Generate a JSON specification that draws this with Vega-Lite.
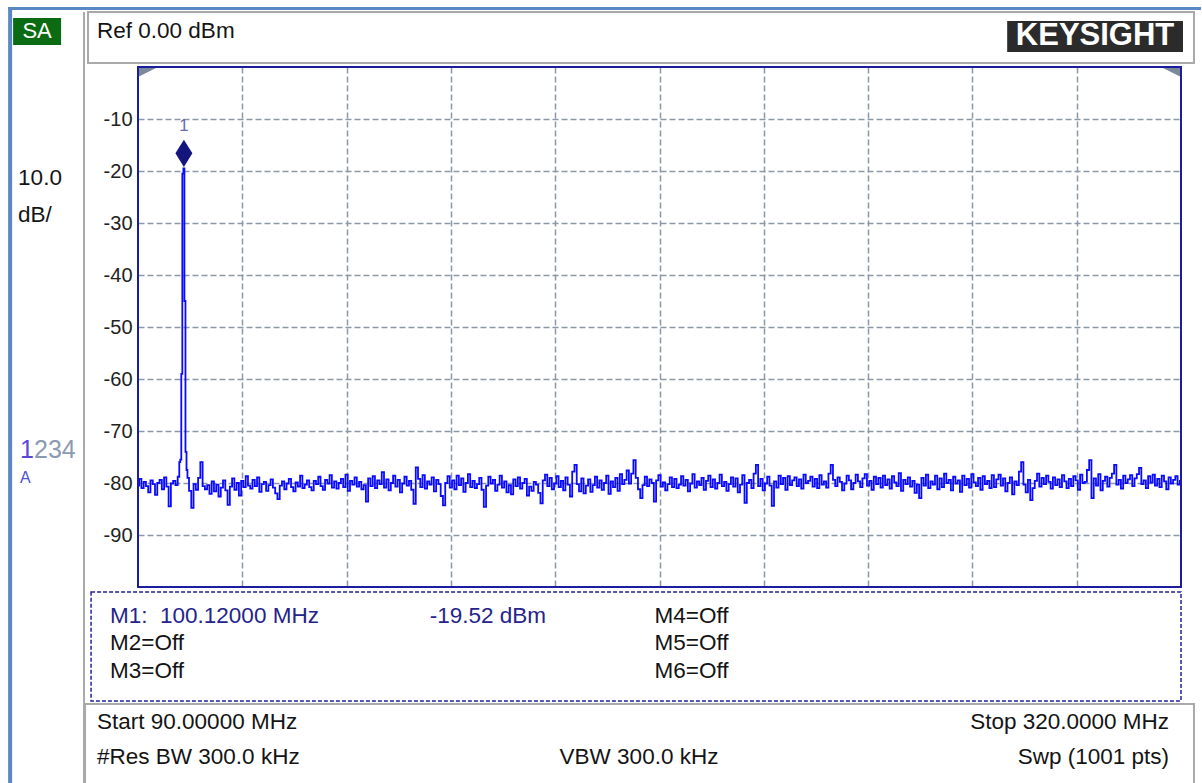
{
  "$schema": "https://vega.github.io/schema/vega-lite/v6.json",
  "width": 1043,
  "height": 520,
  "autosize": {"type": "none"},
  "padding": {"left": 138, "top": 67, "right": 21, "bottom": 196},
  "background": "#ffffff",
  "config": {"font": "Liberation Sans", "view": {"stroke": null}},
  "datasets": {
    "trace": [
      {"f":90,"p":-80.5},{"f":90.5,"p":-79.2},{"f":91,"p":-81.0},{"f":91.5,"p":-79.8},{"f":92,"p":-80.6},{"f":92.5,"p":-81.8},{"f":93,"p":-79.5},{"f":93.5,"p":-80.2},{"f":94,"p":-82.3},{"f":94.5,"p":-80.0},
      {"f":95,"p":-79.4},{"f":95.5,"p":-81.2},{"f":96,"p":-78.9},{"f":96.5,"p":-80.7},{"f":97,"p":-84.5},{"f":97.5,"p":-80.1},{"f":98,"p":-79.6},{"f":98.5,"p":-80.4},{"f":99,"p":-78.8},
      {"f":99.2,"p":-76.0},{"f":99.43,"p":-75.5},{"f":99.66,"p":-59.0},{"f":99.89,"p":-20.5},{"f":100.12,"p":-19.5},{"f":100.35,"p":-45.0},{"f":100.58,"p":-74.0},{"f":100.81,"p":-77.5},
      {"f":101,"p":-79.0},{"f":101.5,"p":-81.5},{"f":102,"p":-84.8},{"f":102.5,"p":-80.2},{"f":103,"p":-81.3},{"f":103.5,"p":-79.0},{"f":104,"p":-76.0},{"f":104.5,"p":-80.6},
      {"f":105,"p":-81.2},{"f":105.5,"p":-80.4},{"f":106,"p":-82.1},{"f":106.5,"p":-79.7},{"f":107,"p":-81.6},{"f":107.5,"p":-80.3},{"f":108,"p":-82.6},{"f":108.5,"p":-80.9},{"f":109,"p":-79.5},{"f":109.5,"p":-81.4},
      {"f":110,"p":-84.2},{"f":110.5,"p":-80.7},{"f":111,"p":-79.1},{"f":111.5,"p":-81.3},{"f":112,"p":-80.0},{"f":112.5,"p":-82.4},{"f":113,"p":-79.6},{"f":113.5,"p":-80.8},{"f":114,"p":-78.7},{"f":114.5,"p":-80.5},
      {"f":115,"p":-81.1},{"f":115.5,"p":-79.4},{"f":116,"p":-80.6},{"f":116.5,"p":-78.9},{"f":117,"p":-81.7},{"f":117.5,"p":-80.2},{"f":118,"p":-79.8},{"f":118.5,"p":-81.5},{"f":119,"p":-80.4},{"f":119.5,"p":-79.3},
      {"f":120,"p":-80.9},{"f":120.5,"p":-82.0},{"f":121,"p":-83.1},{"f":121.5,"p":-80.5},{"f":122,"p":-79.7},{"f":122.5,"p":-81.2},{"f":123,"p":-80.1},{"f":123.5,"p":-79.2},{"f":124,"p":-80.8},{"f":124.5,"p":-81.6},
      {"f":125,"p":-79.9},{"f":125.5,"p":-80.7},{"f":126,"p":-78.6},{"f":126.5,"p":-81.0},{"f":127,"p":-80.3},{"f":127.5,"p":-79.5},{"f":128,"p":-80.8},{"f":128.5,"p":-81.4},{"f":129,"p":-79.6},{"f":129.5,"p":-80.2},
      {"f":130,"p":-78.8},{"f":130.5,"p":-80.6},{"f":131,"p":-81.3},{"f":131.5,"p":-79.4},{"f":132,"p":-80.1},{"f":132.5,"p":-78.5},{"f":133,"p":-80.9},{"f":133.5,"p":-79.7},{"f":134,"p":-81.1},{"f":134.5,"p":-80.0},
      {"f":135,"p":-79.2},{"f":135.5,"p":-80.8},{"f":136,"p":-78.4},{"f":136.5,"p":-81.5},{"f":137,"p":-79.6},{"f":137.5,"p":-80.3},{"f":138,"p":-78.9},{"f":138.5,"p":-80.7},{"f":139,"p":-79.8},{"f":139.5,"p":-81.2},
      {"f":140,"p":-80.4},{"f":140.5,"p":-83.6},{"f":141,"p":-79.1},{"f":141.5,"p":-80.6},{"f":142,"p":-78.7},{"f":142.5,"p":-81.0},{"f":143,"p":-79.5},{"f":143.5,"p":-80.2},{"f":144,"p":-77.9},{"f":144.5,"p":-80.9},
      {"f":145,"p":-79.3},{"f":145.5,"p":-81.4},{"f":146,"p":-80.0},{"f":146.5,"p":-78.6},{"f":147,"p":-80.7},{"f":147.5,"p":-79.4},{"f":148,"p":-81.8},{"f":148.5,"p":-80.1},{"f":149,"p":-78.8},{"f":149.5,"p":-80.5},
      {"f":150,"p":-79.6},{"f":150.5,"p":-81.3},{"f":151,"p":-84.0},{"f":151.5,"p":-77.0},{"f":152,"p":-79.2},{"f":152.5,"p":-80.8},{"f":153,"p":-78.5},{"f":153.5,"p":-81.1},{"f":154,"p":-79.7},{"f":154.5,"p":-80.3},
      {"f":155,"p":-78.9},{"f":155.5,"p":-81.6},{"f":156,"p":-79.4},{"f":156.5,"p":-80.2},{"f":157,"p":-82.5},{"f":157.5,"p":-84.3},{"f":158,"p":-80.0},{"f":158.5,"p":-78.7},{"f":159,"p":-80.9},{"f":159.5,"p":-79.5},
      {"f":160,"p":-81.2},{"f":160.5,"p":-78.6},{"f":161,"p":-80.4},{"f":161.5,"p":-79.1},{"f":162,"p":-81.7},{"f":162.5,"p":-80.0},{"f":163,"p":-78.3},{"f":163.5,"p":-80.8},{"f":164,"p":-79.6},{"f":164.5,"p":-81.0},
      {"f":165,"p":-80.2},{"f":165.5,"p":-79.0},{"f":166,"p":-81.3},{"f":166.5,"p":-84.6},{"f":167,"p":-80.5},{"f":167.5,"p":-78.8},{"f":168,"p":-80.1},{"f":168.5,"p":-79.4},{"f":169,"p":-81.5},{"f":169.5,"p":-80.3},
      {"f":170,"p":-78.6},{"f":170.5,"p":-80.9},{"f":171,"p":-79.7},{"f":171.5,"p":-81.8},{"f":172,"p":-80.4},{"f":172.5,"p":-82.2},{"f":173,"p":-79.3},{"f":173.5,"p":-80.6},{"f":174,"p":-78.9},{"f":174.5,"p":-81.1},
      {"f":175,"p":-80.0},{"f":175.5,"p":-79.2},{"f":176,"p":-82.4},{"f":176.5,"p":-80.7},{"f":177,"p":-81.5},{"f":177.5,"p":-79.8},{"f":178,"p":-80.3},{"f":178.5,"p":-81.9},{"f":179,"p":-83.9},{"f":179.5,"p":-79.5},
      {"f":180,"p":-78.4},{"f":180.5,"p":-80.6},{"f":181,"p":-79.0},{"f":181.5,"p":-81.2},{"f":182,"p":-80.1},{"f":182.5,"p":-78.7},{"f":183,"p":-80.8},{"f":183.5,"p":-79.6},{"f":184,"p":-81.4},{"f":184.5,"p":-78.9},
      {"f":185,"p":-80.3},{"f":185.5,"p":-82.6},{"f":186,"p":-77.8},{"f":186.5,"p":-76.5},{"f":187,"p":-80.2},{"f":187.5,"p":-81.6},{"f":188,"p":-79.1},{"f":188.5,"p":-82.0},{"f":189,"p":-80.5},{"f":189.5,"p":-79.3},
      {"f":190,"p":-81.7},{"f":190.5,"p":-80.4},{"f":191,"p":-78.8},{"f":191.5,"p":-80.9},{"f":192,"p":-79.5},{"f":192.5,"p":-81.3},{"f":193,"p":-80.0},{"f":193.5,"p":-78.6},{"f":194,"p":-82.1},{"f":194.5,"p":-79.7},
      {"f":195,"p":-80.8},{"f":195.5,"p":-79.0},{"f":196,"p":-81.5},{"f":196.5,"p":-78.3},{"f":197,"p":-80.2},{"f":197.5,"p":-79.4},{"f":198,"p":-77.6},{"f":198.5,"p":-80.1},{"f":199,"p":-78.2},{"f":199.5,"p":-75.6},
      {"f":200,"p":-79.0},{"f":200.5,"p":-81.2},{"f":201,"p":-82.9},{"f":201.5,"p":-80.4},{"f":202,"p":-78.8},{"f":202.5,"p":-80.6},{"f":203,"p":-79.3},{"f":203.5,"p":-80.0},{"f":204,"p":-83.6},{"f":204.5,"p":-79.5},
      {"f":205,"p":-78.5},{"f":205.5,"p":-80.7},{"f":206,"p":-79.9},{"f":206.5,"p":-81.4},{"f":207,"p":-80.2},{"f":207.5,"p":-78.9},{"f":208,"p":-80.8},{"f":208.5,"p":-79.2},{"f":209,"p":-81.0},{"f":209.5,"p":-80.3},
      {"f":210,"p":-78.7},{"f":210.5,"p":-80.5},{"f":211,"p":-79.4},{"f":211.5,"p":-81.6},{"f":212,"p":-80.1},{"f":212.5,"p":-78.3},{"f":213,"p":-80.9},{"f":213.5,"p":-79.7},{"f":214,"p":-80.4},{"f":214.5,"p":-79.0},
      {"f":215,"p":-81.3},{"f":215.5,"p":-79.6},{"f":216,"p":-78.6},{"f":216.5,"p":-80.8},{"f":217,"p":-79.3},{"f":217.5,"p":-81.1},{"f":218,"p":-80.0},{"f":218.5,"p":-78.4},{"f":219,"p":-80.6},{"f":219.5,"p":-79.8},
      {"f":220,"p":-81.5},{"f":220.5,"p":-80.2},{"f":221,"p":-78.9},{"f":221.5,"p":-80.7},{"f":222,"p":-79.1},{"f":222.5,"p":-81.8},{"f":223,"p":-80.3},{"f":223.5,"p":-78.5},{"f":224,"p":-83.8},{"f":224.5,"p":-80.0},
      {"f":225,"p":-79.4},{"f":225.5,"p":-81.0},{"f":226,"p":-78.2},{"f":226.5,"p":-76.5},{"f":227,"p":-80.6},{"f":227.5,"p":-79.2},{"f":228,"p":-81.4},{"f":228.5,"p":-80.1},{"f":229,"p":-78.8},{"f":229.5,"p":-80.5},
      {"f":230,"p":-84.4},{"f":230.5,"p":-79.7},{"f":231,"p":-80.9},{"f":231.5,"p":-78.6},{"f":232,"p":-80.2},{"f":232.5,"p":-79.0},{"f":233,"p":-81.3},{"f":233.5,"p":-78.7},{"f":234,"p":-80.4},{"f":234.5,"p":-79.5},
      {"f":235,"p":-78.9},{"f":235.5,"p":-80.6},{"f":236,"p":-79.3},{"f":236.5,"p":-81.1},{"f":237,"p":-78.4},{"f":237.5,"p":-80.0},{"f":238,"p":-79.6},{"f":238.5,"p":-78.8},{"f":239,"p":-80.7},{"f":239.5,"p":-79.2},
      {"f":240,"p":-81.0},{"f":240.5,"p":-78.5},{"f":241,"p":-80.3},{"f":241.5,"p":-79.7},{"f":242,"p":-80.9},{"f":242.5,"p":-78.2},{"f":243,"p":-76.5},{"f":243.5,"p":-79.4},{"f":244,"p":-80.6},{"f":244.5,"p":-78.9},
      {"f":245,"p":-79.8},{"f":245.5,"p":-81.4},{"f":246,"p":-80.1},{"f":246.5,"p":-78.6},{"f":247,"p":-79.5},{"f":247.5,"p":-81.2},{"f":248,"p":-80.0},{"f":248.5,"p":-78.4},{"f":249,"p":-79.7},{"f":249.5,"p":-80.8},
      {"f":250,"p":-79.1},{"f":250.5,"p":-78.3},{"f":251,"p":-80.5},{"f":251.5,"p":-79.6},{"f":252,"p":-81.3},{"f":252.5,"p":-78.8},{"f":253,"p":-80.2},{"f":253.5,"p":-79.0},{"f":254,"p":-80.9},{"f":254.5,"p":-78.6},
      {"f":255,"p":-80.4},{"f":255.5,"p":-79.3},{"f":256,"p":-81.1},{"f":256.5,"p":-78.7},{"f":257,"p":-79.9},{"f":257.5,"p":-80.6},{"f":258,"p":-78.1},{"f":258.5,"p":-81.5},{"f":259,"p":-79.4},{"f":259.5,"p":-80.2},
      {"f":260,"p":-78.9},{"f":260.5,"p":-80.7},{"f":261,"p":-79.6},{"f":261.5,"p":-81.9},{"f":262,"p":-80.3},{"f":262.5,"p":-82.9},{"f":263,"p":-79.0},{"f":263.5,"p":-80.5},{"f":264,"p":-78.4},{"f":264.5,"p":-81.0},
      {"f":265,"p":-79.7},{"f":265.5,"p":-80.3},{"f":266,"p":-78.6},{"f":266.5,"p":-81.2},{"f":267,"p":-79.1},{"f":267.5,"p":-80.8},{"f":268,"p":-78.2},{"f":268.5,"p":-80.0},{"f":269,"p":-79.4},{"f":269.5,"p":-81.4},
      {"f":270,"p":-78.8},{"f":270.5,"p":-80.1},{"f":271,"p":-79.5},{"f":271.5,"p":-81.7},{"f":272,"p":-78.6},{"f":272.5,"p":-80.4},{"f":273,"p":-79.2},{"f":273.5,"p":-80.9},{"f":274,"p":-78.3},{"f":274.5,"p":-79.9},
      {"f":275,"p":-80.6},{"f":275.5,"p":-79.0},{"f":276,"p":-81.3},{"f":276.5,"p":-78.7},{"f":277,"p":-80.2},{"f":277.5,"p":-79.6},{"f":278,"p":-81.0},{"f":278.5,"p":-78.5},{"f":279,"p":-80.8},{"f":279.5,"p":-79.3},
      {"f":280,"p":-78.4},{"f":280.5,"p":-80.5},{"f":281,"p":-79.1},{"f":281.5,"p":-81.6},{"f":282,"p":-80.0},{"f":282.5,"p":-78.9},{"f":283,"p":-82.2},{"f":283.5,"p":-79.7},{"f":284,"p":-80.4},{"f":284.5,"p":-77.8},
      {"f":285,"p":-76.0},{"f":285.5,"p":-80.3},{"f":286,"p":-81.8},{"f":286.5,"p":-79.4},{"f":287,"p":-83.3},{"f":287.5,"p":-81.0},{"f":288,"p":-79.6},{"f":288.5,"p":-78.2},{"f":289,"p":-80.7},{"f":289.5,"p":-79.0},
      {"f":290,"p":-80.2},{"f":290.5,"p":-78.6},{"f":291,"p":-79.8},{"f":291.5,"p":-81.1},{"f":292,"p":-78.9},{"f":292.5,"p":-80.4},{"f":293,"p":-79.3},{"f":293.5,"p":-80.8},{"f":294,"p":-78.5},{"f":294.5,"p":-79.7},
      {"f":295,"p":-81.0},{"f":295.5,"p":-79.2},{"f":296,"p":-80.6},{"f":296.5,"p":-78.7},{"f":297,"p":-79.5},{"f":297.5,"p":-81.3},{"f":298,"p":-78.4},{"f":298.5,"p":-80.0},{"f":299,"p":-79.8},{"f":299.5,"p":-77.5},
      {"f":300,"p":-75.6},{"f":300.5,"p":-82.9},{"f":301,"p":-79.1},{"f":301.5,"p":-80.5},{"f":302,"p":-78.3},{"f":302.5,"p":-81.4},{"f":303,"p":-79.6},{"f":303.5,"p":-78.8},{"f":304,"p":-80.7},{"f":304.5,"p":-79.0},
      {"f":305,"p":-78.2},{"f":305.5,"p":-76.5},{"f":306,"p":-80.3},{"f":306.5,"p":-79.4},{"f":307,"p":-81.1},{"f":307.5,"p":-78.6},{"f":308,"p":-80.0},{"f":308.5,"p":-79.3},{"f":309,"p":-78.5},{"f":309.5,"p":-80.6},
      {"f":310,"p":-79.1},{"f":310.5,"p":-78.3},{"f":311,"p":-77.1},{"f":311.5,"p":-80.2},{"f":312,"p":-79.5},{"f":312.5,"p":-81.0},{"f":313,"p":-78.7},{"f":313.5,"p":-79.9},{"f":314,"p":-78.4},{"f":314.5,"p":-80.5},
      {"f":315,"p":-79.2},{"f":315.5,"p":-80.8},{"f":316,"p":-78.6},{"f":316.5,"p":-79.7},{"f":317,"p":-81.2},{"f":317.5,"p":-78.9},{"f":318,"p":-80.1},{"f":318.5,"p":-79.4},{"f":319,"p":-78.7},{"f":319.5,"p":-80.3},
      {"f":320,"p":-79.6}
    ],
    "bars": [
      {"f":61.36,"f2":62.24,"p":11.54,"p2":-140},
      {"f":61.36,"f2":324.4,"p":11.54,"p2":10.96}
    ],
    "boxes": [
      {"f":78.98,"f2":322.86,"p":10.58,"p2":0.77},
      {"f":78.32,"f2":322.86,"p":-122.5,"p2":-140},
      {"f":78.1,"f2":78.1,"p":10.58,"p2":-140}
    ],
    "markerbox": [{"f":79.65,"f2":320.0,"p":-100.96,"p2":-121.92}],
    "plotframe": [{"f":90,"f2":320,"p":0,"p2":-100}],
    "sabox": [{"f":62.46,"f2":73.04,"p":9.42,"p2":4.23}],
    "satext": [{"f":67.75,"p":6.92,"t":"SA"}],
    "keybox": [{"f":281.67,"f2":320.44,"p":8.85,"p2":2.88}],
    "keytext": [{"f":301.05,"p":5.87,"t":"KEYSIGHT"}],
    "plain": [
      {"f":80.97,"p":6.92,"t":"Ref 0.00 dBm"},
      {"f":63.56,"p":-21.35,"t":"10.0"},
      {"f":63.56,"p":-28.46,"t":"dB/"},
      {"f":83.83,"p":-110.77,"t":"M2=Off"},
      {"f":83.83,"p":-116.15,"t":"M3=Off"},
      {"f":203.9,"p":-105.58,"t":"M4=Off"},
      {"f":203.9,"p":-110.77,"t":"M5=Off"},
      {"f":203.9,"p":-116.15,"t":"M6=Off"},
      {"f":80.97,"p":-125.96,"t":"Start 90.00000 MHz"},
      {"f":80.97,"p":-132.69,"t":"#Res BW 300.0 kHz"},
      {"f":182.97,"p":-132.69,"t":"VBW 300.0 kHz"}
    ],
    "rightText": [
      {"f":317.36,"p":-125.96,"t":"Stop 320.0000 MHz"},
      {"f":317.36,"p":-132.69,"t":"Swp (1001 pts)"}
    ],
    "markerText": [
      {"f":83.83,"p":-105.58,"t":"M1:\u00a0 100.12000 MHz"},
      {"f":154.33,"p":-105.58,"t":"-19.52 dBm"}
    ],
    "traces": [
      {"f":64.0,"p":-73.65,"t":"1","k":"active"},
      {"f":67.07,"p":-73.65,"t":"234","k":"inactive"}
    ],
    "traceMode": [{"f":64.0,"p":-79.04,"t":"A"}],
    "marker": [{"f":100.12,"p":-16.6}],
    "markerLabel": [{"f":100.12,"p":-11.4,"t":"1"}],
    "corners": [{"f":90,"p":0,"k":"l"},{"f":320,"p":0,"k":"r"}]
  },
  "encoding": {
    "x": {
      "field": "f", "type": "quantitative",
      "scale": {"domain": [90, 320], "nice": false, "zero": false},
      "axis": {"values": [113, 136, 159, 182, 205, 228, 251, 274, 297], "labels": false, "ticks": false, "domain": false, "grid": true, "gridColor": "#8a99a8", "gridDash": [6, 3], "gridWidth": 1.5, "title": null}
    },
    "y": {
      "field": "p", "type": "quantitative",
      "scale": {"domain": [-100, 0], "nice": false, "zero": false},
      "axis": {"values": [-90, -80, -70, -60, -50, -40, -30, -20, -10], "labelExpr": "toString(datum.value)", "ticks": false, "domain": false, "grid": true, "gridColor": "#8a99a8", "gridDash": [6, 3], "gridWidth": 1.5, "labelFont": "Liberation Sans", "labelFontSize": 20, "labelColor": "#222222", "labelPadding": 6, "title": null}
    }
  },
  "layer": [
    {"data": {"name": "bars"}, "mark": {"type": "rect", "color": "#5b87c4", "clip": false}, "encoding": {"x2": {"field": "f2"}, "y2": {"field": "p2"}}},
    {"data": {"name": "boxes"}, "mark": {"type": "rect", "filled": false, "stroke": "#a9a9a9", "strokeWidth": 2, "clip": false}, "encoding": {"x2": {"field": "f2"}, "y2": {"field": "p2"}}},
    {"data": {"name": "markerbox"}, "mark": {"type": "rect", "filled": false, "stroke": "#22229c", "strokeWidth": 1.5, "strokeDash": [4, 2], "clip": false}, "encoding": {"x2": {"field": "f2"}, "y2": {"field": "p2"}}},
    {"data": {"name": "sabox"}, "mark": {"type": "rect", "color": "#0b6b12", "clip": false}, "encoding": {"x2": {"field": "f2"}, "y2": {"field": "p2"}}},
    {"data": {"name": "keybox"}, "mark": {"type": "rect", "color": "#2b2b2b", "clip": false}, "encoding": {"x2": {"field": "f2"}, "y2": {"field": "p2"}}},
    {"data": {"name": "satext"}, "mark": {"type": "text", "align": "center", "baseline": "middle", "fontSize": 22, "color": "#ffffff", "clip": false}, "encoding": {"text": {"field": "t"}}},
    {"data": {"name": "keytext"}, "mark": {"type": "text", "align": "center", "baseline": "middle", "fontSize": 31, "fontWeight": "bold", "color": "#ffffff", "clip": false}, "encoding": {"text": {"field": "t"}}},
    {"data": {"name": "corners"}, "mark": {"type": "point", "filled": true, "size": 400, "color": "#7b8a9a", "opacity": 1, "clip": false}, "encoding": {"shape": {"field": "k", "type": "nominal", "scale": {"domain": ["l", "r"], "range": ["M0,0L2,0L0,1Z", "M0,0L-2,0L0,1Z"]}, "legend": null}}},
    {"data": {"name": "trace"}, "mark": {"type": "line", "color": "#0a0aff", "strokeWidth": 1.8, "interpolate": "step", "clip": true}, "encoding": {}},
    {"data": {"name": "plotframe"}, "mark": {"type": "rect", "filled": false, "stroke": "#1c1c9e", "strokeWidth": 2, "clip": false}, "encoding": {"x2": {"field": "f2"}, "y2": {"field": "p2"}}},
    {"data": {"name": "marker"}, "mark": {"type": "point", "shape": "M0,-1.6L1,0L0,1.6L-1,0Z", "size": 289, "filled": true, "color": "#15157e", "opacity": 1}, "encoding": {}},
    {"data": {"name": "markerLabel"}, "mark": {"type": "text", "align": "center", "baseline": "middle", "fontSize": 17, "color": "#6a6ab0"}, "encoding": {"text": {"field": "t"}}},
    {"data": {"name": "plain"}, "mark": {"type": "text", "align": "left", "baseline": "middle", "fontSize": 22.5, "color": "#141414", "clip": false}, "encoding": {"text": {"field": "t"}}},
    {"data": {"name": "rightText"}, "mark": {"type": "text", "align": "right", "baseline": "middle", "fontSize": 22.5, "color": "#141414", "clip": false}, "encoding": {"text": {"field": "t"}}},
    {"data": {"name": "markerText"}, "mark": {"type": "text", "align": "left", "baseline": "middle", "fontSize": 22.5, "color": "#24248a", "clip": false}, "encoding": {"text": {"field": "t"}}},
    {"data": {"name": "traces"}, "mark": {"type": "text", "align": "left", "baseline": "middle", "fontSize": 25, "clip": false}, "encoding": {"text": {"field": "t"}, "color": {"field": "k", "type": "nominal", "scale": {"domain": ["active", "inactive"], "range": ["#5a46d8", "#8b9ab0"]}, "legend": null}}},
    {"data": {"name": "traceMode"}, "mark": {"type": "text", "align": "left", "baseline": "middle", "fontSize": 16, "color": "#4f4fd6", "clip": false}, "encoding": {"text": {"field": "t"}}}
  ]
}
